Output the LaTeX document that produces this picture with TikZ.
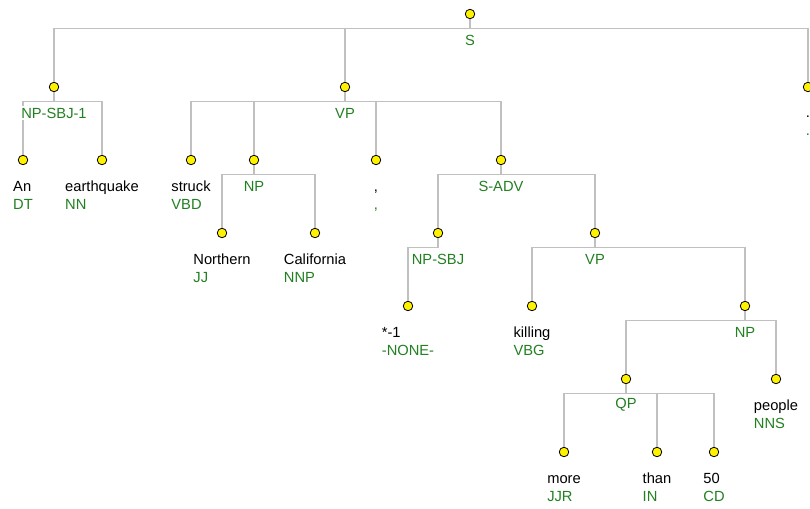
\documentclass[tikz,border=0pt]{standalone}
\usepackage{fontspec}
\setmainfont{Liberation Sans}
\definecolor{tagcol}{RGB}{34,128,34}
\definecolor{edgecol}{RGB}{192,192,192}
\newcommand\treefont{\fontsize{14.7}{18}\selectfont}
\newcommand\postag[1]{\textcolor{tagcol}{#1}}
% a word over its part-of-speech tag, on a common cap-height line
\newcommand\wordtag[2]{\vphantom{Ah}#1\\\postag{#2}}
\tikzset{
  pt/.style={circle, draw=black, fill=yellow, line width=0.8pt, minimum size=9.5pt, inner sep=0pt},
  edge/.style={draw=edgecol, line width=1.4pt},
  cat/.style={fill=white, text=tagcol, inner sep=2pt, font=\treefont},
  leaf/.style={anchor=north, align=left, inner sep=0pt, font=\treefont},
}
% branch from a parent dot to a child dot: stem, bar, drop
\newcommand\branch[2]{\draw[edge] (#1.south) -- ++(0,9.3) -| (#2.north);}
\begin{document}
\begin{tikzpicture}[x=1pt,y=-1pt]
\useasboundingbox (0,0) rectangle (810,508);
\fill[white] (0,0) rectangle (810,508);

% tree points
\node[pt] (S)       at (470,14) {};
\node[pt] (NPSBJa)  at (54,87) {};
\node[pt] (VPa)     at (345,87) {};
\node[pt] (Per)     at (808,87) {};
\node[pt] (An)      at (23,160) {};
\node[pt] (Earth)   at (102,160) {};
\node[pt] (Struck)  at (191,160) {};
\node[pt] (NPa)     at (254,160) {};
\node[pt] (Comma)   at (376,160) {};
\node[pt] (SADV)    at (501,160) {};
\node[pt] (North)   at (222,233) {};
\node[pt] (Calif)   at (315,233) {};
\node[pt] (NPSBJb)  at (438,233) {};
\node[pt] (VPb)     at (595,233) {};
\node[pt] (Star)    at (408,306) {};
\node[pt] (Kill)    at (532,306) {};
\node[pt] (NPb)     at (745,306) {};
\node[pt] (QP)      at (626,379) {};
\node[pt] (People)  at (776,379) {};
\node[pt] (More)    at (564,452) {};
\node[pt] (Than)    at (657,452) {};
\node[pt] (Fifty)   at (714,452) {};

% branches
\branch{S}{NPSBJa} \branch{S}{VPa} \branch{S}{Per}
\branch{NPSBJa}{An} \branch{NPSBJa}{Earth}
\branch{VPa}{Struck} \branch{VPa}{NPa} \branch{VPa}{Comma} \branch{VPa}{SADV}
\branch{NPa}{North} \branch{NPa}{Calif}
\branch{SADV}{NPSBJb} \branch{SADV}{VPb}
\branch{NPSBJb}{Star}
\branch{VPb}{Kill} \branch{VPb}{NPb}
\branch{NPb}{QP} \branch{NPb}{People}
\branch{QP}{More} \branch{QP}{Than} \branch{QP}{Fifty}

% phrase labels
\node[cat] (lS)      at (470,40)  {S};
\node[cat] (lNPSBJa) at (54,113)  {NP-SBJ-1};
\node[cat] (lVPa)    at (345,113) {VP};
\node[cat] (lNPa)    at (254,186) {NP};
\node[cat] (lSADV)   at (501,186) {S-ADV};
\node[cat] (lNPSBJb) at (438,259) {NP-SBJ};
\node[cat] (lVPb)    at (595,259) {VP};
\node[cat] (lNPb)    at (745,332) {NP};
\node[cat] (lQP)     at (626,405) {QP};

% words with their tags
\node[leaf] (wPer)    at (808,107) {\wordtag{.}{.}};
\node[leaf] (wAn)     at (23,181)  {\wordtag{An}{DT}};
\node[leaf] (wEarth)  at (102,181) {\wordtag{earthquake}{NN}};
\node[leaf] (wStruck) at (191,181) {\wordtag{struck}{VBD}};
\node[leaf] (wComma)  at (376,181) {\wordtag{,}{,}};
\node[leaf] (wNorth)  at (222,254) {\wordtag{Northern}{JJ}};
\node[leaf] (wCalif)  at (315,254) {\wordtag{California}{NNP}};
\node[leaf] (wStar)   at (408,327) {\wordtag{*-1}{-NONE-}};
\node[leaf] (wKill)   at (532,327) {\wordtag{killing}{VBG}};
\node[leaf] (wPeople) at (776,400) {\wordtag{people}{NNS}};
\node[leaf] (wMore)   at (564,473) {\wordtag{more}{JJR}};
\node[leaf] (wThan)   at (657,473) {\wordtag{than}{IN}};
\node[leaf] (wFifty)  at (714,473) {\wordtag{50}{CD}};
\end{tikzpicture}
\end{document}
